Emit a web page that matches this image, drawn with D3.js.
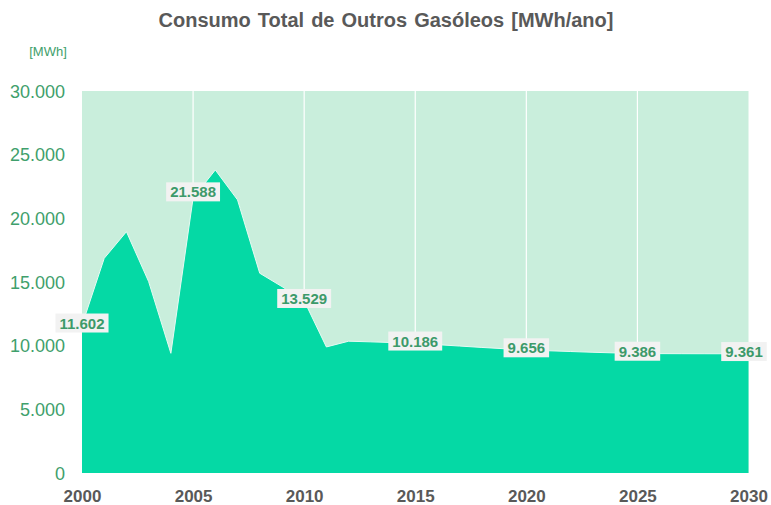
<!DOCTYPE html>
<html lang="pt">
<meta charset="utf-8">
<style>
    html, body { margin: 0; padding: 0; background: #fff; }
    svg { display: block; font-family: "Liberation Sans", Arial, sans-serif; }
</style>
<body>
<svg id="svg" width="771" height="505"></svg>
<script src="https://cdn.jsdelivr.net/npm/d3@7"></script>
<script>
    // data
    var years = [2000, 2001, 2002, 2003, 2004, 2005, 2006, 2007, 2008, 2009,
                 2010, 2011, 2012, 2013, 2014, 2015, 2016, 2017, 2018, 2019,
                 2020, 2021, 2022, 2023, 2024, 2025, 2026, 2027, 2028, 2029, 2030];
    var consumo = [11602, 16860, 18950, 15030, 9400, 21588, 23800, 21450, 15690, 14640,
                   13529, 9900, 10350, 10300, 10240, 10186, 10080, 9970, 9860, 9760,
                   9656, 9600, 9540, 9480, 9430, 9386, 9375, 9370, 9366, 9363, 9361];
    var labelYears = [2000, 2005, 2010, 2015, 2020, 2025, 2030];
    var yTicks = [0, 5000, 10000, 15000, 20000, 25000, 30000];
    var xTicks = [2000, 2005, 2010, 2015, 2020, 2025, 2030];

    var svg = d3.select("svg"),
        margin = {top: 91, right: 22, bottom: 32, left: 82},
        width = +svg.attr("width"),
        height = +svg.attr("height");

    var fmt = d3.formatLocale({decimal: ",", thousands: ".", grouping: [3], currency: ["", ""]}).format(",d");

    var data = years.map((y, i) => ({year: y, value: consumo[i]}));

    var x = d3.scaleLinear().domain([2000, 2030]).range([margin.left, width - margin.right - 0.5]);
    var y = d3.scaleLinear().domain([0, 30000]).range([height - margin.bottom, margin.top]);

    // title
    svg.append("text")
        .attr("x", 386).attr("y", 27)
        .attr("text-anchor", "middle")
        .attr("font-size", 20).attr("font-weight", "bold")
        .attr("word-spacing", 1.5)
        .attr("fill", "#595959")
        .text("Consumo Total de Outros Gasóleos [MWh/ano]");

    svg.append("text")
        .attr("x", 48).attr("y", 56)
        .attr("text-anchor", "middle")
        .attr("font-size", 13)
        .attr("fill", "#3fa06c")
        .text("[MWh]");

    // plot background
    svg.append("rect")
        .attr("x", x(2000)).attr("y", y(30000))
        .attr("width", x(2030) - x(2000)).attr("height", y(0) - y(30000))
        .attr("fill", "#c9eedc");

    // vertical grid
    svg.append("g").selectAll("line").data(xTicks.slice(1, -1)).enter().append("line")
        .attr("x1", d => x(d)).attr("x2", d => x(d))
        .attr("y1", y(30000)).attr("y2", y(0))
        .attr("stroke", "#ffffff").attr("stroke-width", 1.2);

    var area = d3.area()
        .x(d => x(d.year))
        .y0(y(0))
        .y1(d => y(d.value));

    svg.append("path")
        .datum(data)
        .attr("d", area)
        .attr("fill", "#05d9a5");

    svg.append("path")
        .datum(data)
        .attr("d", d3.line().x(d => x(d.year)).y(d => y(d.value)))
        .attr("fill", "none")
        .attr("stroke", "#e6fbf3").attr("stroke-width", 1);

    // y axis
    var yAxis = svg.append("g")
        .attr("transform", "translate(" + (margin.left - 14) + ",0)")
        .call(d3.axisLeft(y).tickValues(yTicks).tickSize(0).tickFormat(fmt));
    yAxis.select(".domain").remove();
    yAxis.selectAll("text")
        .attr("font-family", "Liberation Sans, Arial, sans-serif")
        .attr("font-size", 18)
        .attr("fill", "#3fa06c")
        .attr("dy", "0.35em");

    // x axis
    var xAxis = svg.append("g")
        .attr("transform", "translate(0," + (height - margin.bottom) + ")")
        .call(d3.axisBottom(x).tickValues(xTicks).tickSize(0).tickFormat(d3.format("d")));
    xAxis.select(".domain").remove();
    xAxis.selectAll("text")
        .attr("font-family", "Liberation Sans, Arial, sans-serif")
        .attr("font-size", 17)
        .attr("font-weight", "bold")
        .attr("fill", "#595959")
        .attr("y", 17).attr("dy", "0.71em");

    // value labels
    var labels = svg.append("g").selectAll("g")
        .data(data.filter(d => labelYears.includes(d.year)))
        .enter().append("g")
        .attr("transform", d => {
            var cx = Math.min(x(d.year), width - 27);
            var cy = d.year === 2005 ? y(d.value) - 6 : y(d.value) - 2;
            return "translate(" + cx + "," + cy + ")";
        });

    labels.append("text")
        .attr("text-anchor", "middle")
        .attr("dy", "0.35em")
        .attr("font-size", 15).attr("font-weight", "bold")
        .attr("fill", "#3d9a6a")
        .text(d => fmt(d.value))
        .each(function () {
            var b = this.getBBox();
            d3.select(this.parentNode).insert("rect", "text")
                .attr("x", b.x - 4).attr("y", b.y - 1)
                .attr("width", b.width + 8).attr("height", b.height + 2)
                .attr("fill", "#f2f2f2");
        });
</script>
</body>
</html>
